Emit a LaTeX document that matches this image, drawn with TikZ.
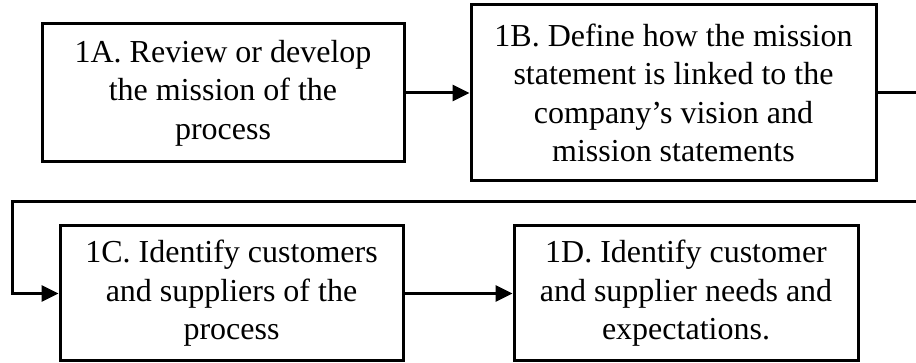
\documentclass[tikz,border=0pt]{standalone}
\usepackage{fontspec}
\setmainfont{Liberation Serif}
\usetikzlibrary{arrows.meta}
\begin{document}
\begin{tikzpicture}[x=1pt,y=-1pt,
  box/.style={draw, line width=3pt, align=center, inner sep=0pt,
    font=\fontsize{32}{38.5}\selectfont},
  conn/.style={line width=3pt},
  arr/.style={conn, -{Triangle[length=17pt,width=16pt]}}]
\useasboundingbox (0,0) rectangle (916,363);
\node[box, minimum width=362pt, minimum height=138pt] (A) at (223,93)
  {1A. Review or develop\\the mission of the\\process};
\node[box, minimum width=405pt, minimum height=176pt] (B) at (673.5,93)
  {1B. Define how the mission\\statement is linked to the\\company's vision and\\mission statements};
\node[box, minimum width=343pt, minimum height=135pt] (C) at (231.5,293.5)
  {1C. Identify customers\\and suppliers of the\\process};
\node[box, minimum width=344pt, minimum height=135pt] (D) at (686,293.5)
  {1D. Identify customer\\and supplier needs and\\expectations.};
\coordinate (r1) at (918,93);
\coordinate (r2) at (918,202);
\coordinate (l1) at (12,202);
\draw[arr] (A.east) -- (B.west |- A.east);
\draw[conn] (B.east |- r1) -- (r1);
\draw[arr] (r2) -- (l1) |- (C.west);
\draw[arr] (C.east) -- (D.west |- C.east);
\end{tikzpicture}
\end{document}
